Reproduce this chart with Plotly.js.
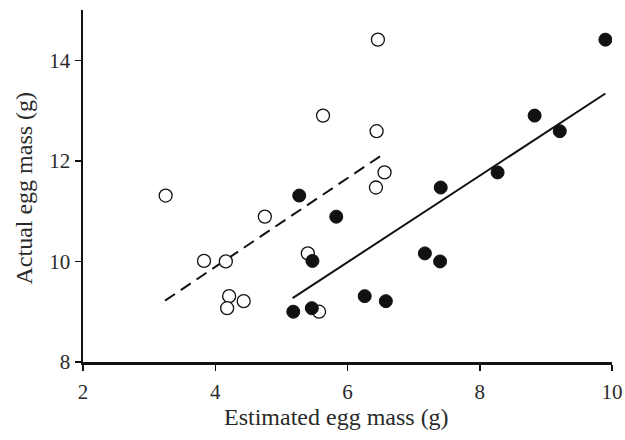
<!DOCTYPE html>
<html><head><meta charset="utf-8">
<script src="https://cdn.plot.ly/plotly-3.0.1.min.js"></script>
<style>html,body{margin:0;padding:0;background:#fff}#c{width:625px;height:440px}</style>
</head><body><div id="c"></div>
<script>
// Actual egg mass (g), shared by both estimates of each egg
const actualMass = [11.31, 10.01, 10.0, 9.31, 9.07, 9.21, 10.89, 10.16, 9.0, 12.9, 14.41, 12.59, 11.77, 11.47];
// Estimated egg mass, method A (open circles)
const estimatedOpen = [3.25, 3.83, 4.16, 4.21, 4.18, 4.43, 4.75, 5.40, 5.57, 5.63, 6.46, 6.44, 6.56, 6.43];
// Estimated egg mass, method B (filled circles)
const estimatedFilled = [5.27, 5.47, 7.40, 6.26, 5.46, 6.58, 5.83, 7.17, 5.18, 8.83, 9.90, 9.21, 8.27, 7.41];
// Fitted regression lines (endpoints)
const fitOpenX = [3.24, 6.56];
const fitOpenY = [9.22, 12.15];
const fitFilledX = [5.17, 9.90];
const fitFilledY = [9.27, 13.34];
const xTicks = [2, 4, 6, 8, 10];
const yTicks = [8, 10, 12, 14];

const font = 'Liberation Serif, Times New Roman, serif';
const traces = [
  {x: fitOpenX, y: fitOpenY, mode: 'lines', line: {color: '#111', width: 2, dash: '12px,7px'}, hoverinfo: 'skip'},
  {x: fitFilledX, y: fitFilledY, mode: 'lines', line: {color: '#111', width: 2}, hoverinfo: 'skip'},
  {x: estimatedOpen, y: actualMass, mode: 'markers', marker: {size: 13, color: '#fff', line: {color: '#111', width: 1.3}}},
  {x: estimatedFilled, y: actualMass, mode: 'markers', marker: {size: 13, color: '#111', line: {color: '#111', width: 1}}}
];
const layout = {
  width: 625, height: 440,
  margin: {l: 83, r: 13, t: 10, b: 78},
  paper_bgcolor: '#fff', plot_bgcolor: '#fff',
  showlegend: false,
  font: {family: font, color: '#2a2a2a', size: 18},
  xaxis: {range: [2, 10], tickvals: xTicks, ticks: 'outside', ticklen: 6, tickwidth: 1.5, tickcolor: '#111',
          showline: true, linecolor: '#111', linewidth: 2.5, showgrid: false, zeroline: false, ticklabelstandoff: 3,
          tickfont: {family: font, size: 21, color: '#2a2a2a'}, fixedrange: true},
  yaxis: {range: [8, 15], tickvals: yTicks, ticks: 'outside', ticklen: 6, tickwidth: 1.5, tickcolor: '#111',
          showline: true, linecolor: '#111', linewidth: 2.5, showgrid: false, zeroline: false,
          tickfont: {family: font, size: 21, color: '#2a2a2a'}, fixedrange: true},
  annotations: [
    {text: 'Estimated egg mass (g)', xref: 'paper', yref: 'paper', x: 0.48, y: -0.115, xanchor: 'center', yanchor: 'top',
     showarrow: false, font: {family: font, size: 24, color: '#2a2a2a'}},
    {text: 'Actual egg mass (g)', xref: 'paper', yref: 'paper', x: -0.112, y: 0.495, xanchor: 'center', yanchor: 'middle',
     textangle: -90, showarrow: false, font: {family: font, size: 24, color: '#2a2a2a'}}
  ]
};
Plotly.newPlot('c', traces, layout, {displayModeBar: false, staticPlot: true});
</script></body></html>
